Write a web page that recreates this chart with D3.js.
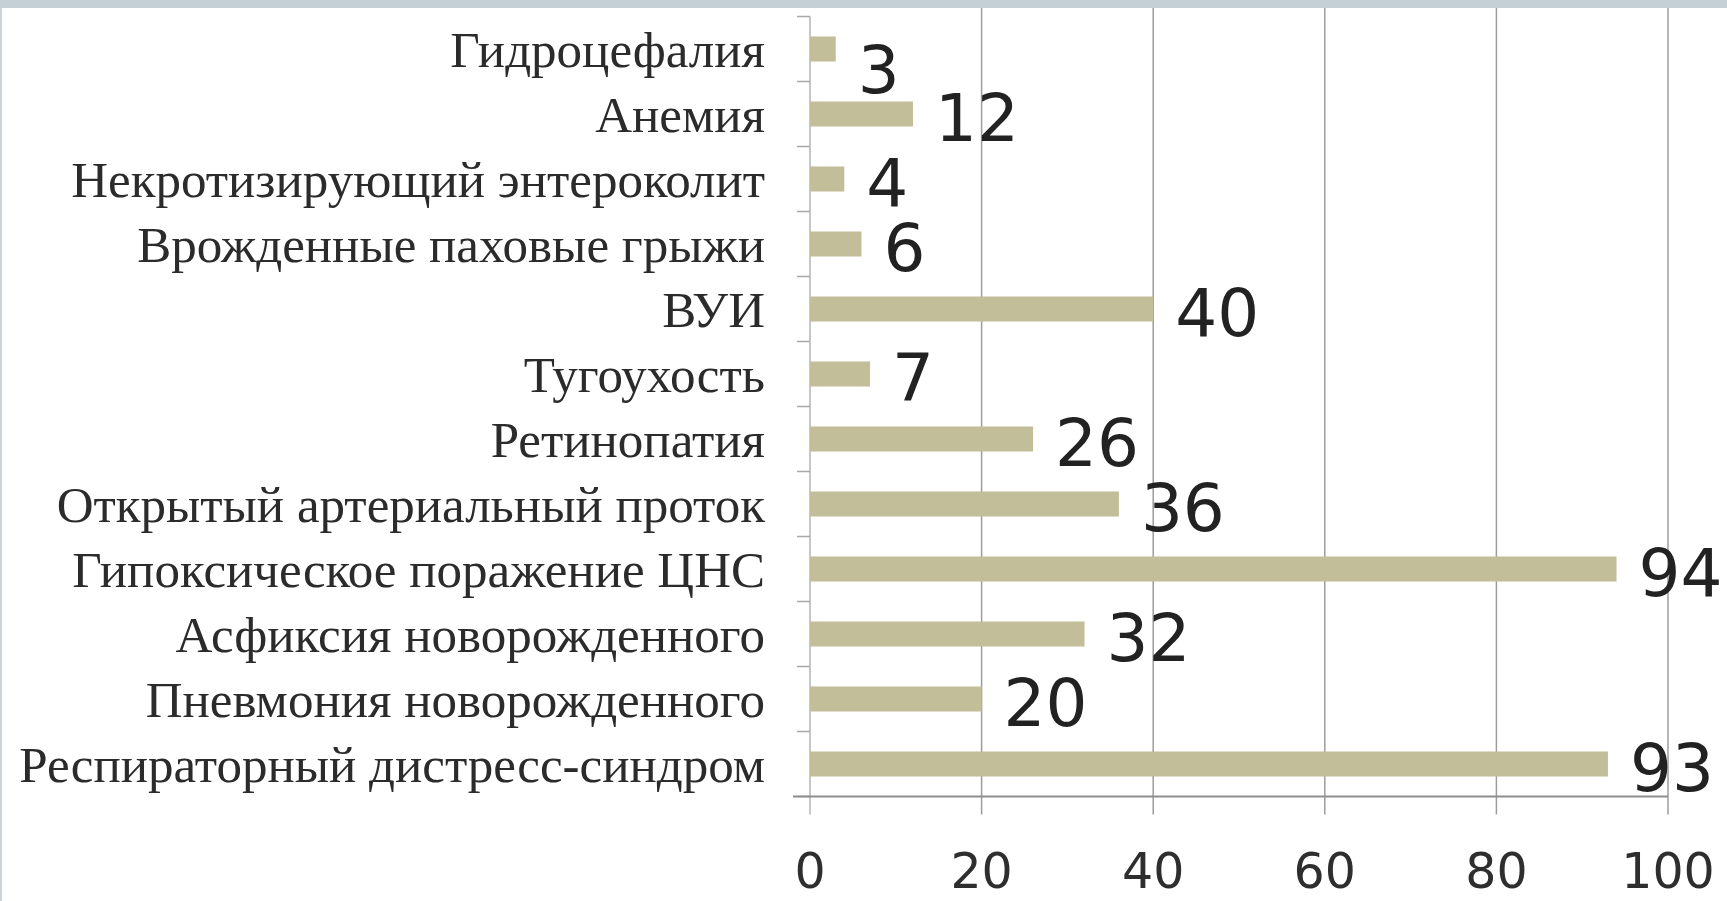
<!DOCTYPE html>
<html>
<head>
<meta charset="utf-8">
<script src="https://cdn.jsdelivr.net/npm/d3@7"></script>
<style>
  html, body { margin: 0; padding: 0; background: #ffffff; }
  svg { display: block; }
</style>
</head>
<body>
<svg id="chart" width="1727" height="901"></svg>
<script>
// Diagnoses, listed top to bottom
const categories = [
  "Гидроцефалия",
  "Анемия",
  "Некротизирующий энтероколит",
  "Врожденные паховые грыжи",
  "ВУИ",
  "Тугоухость",
  "Ретинопатия",
  "Открытый артериальный проток",
  "Гипоксическое поражение ЦНС",
  "Асфиксия новорожденного",
  "Пневмония новорожденного",
  "Респираторный дистресс-синдром"
];
// Number of cases per diagnosis
const values = [3, 12, 4, 6, 40, 7, 26, 36, 94, 32, 20, 93];
// Value axis ticks
const xTicks = [0, 20, 40, 60, 80, 100];

const svg = d3.select("#chart");
const W = 1727, H = 901;

// frame strips along the top and left edges
svg.append("rect").attr("x", 0).attr("y", 0).attr("width", W).attr("height", 8)
  .attr("fill", "#c4cfd6");
svg.append("rect").attr("x", 0).attr("y", 8).attr("width", 2).attr("height", H - 8)
  .attr("fill", "#c9d4dc");

const plot = { left: 810, right: 1668, top: 16.5, bottom: 796.5 };

const x = d3.scaleLinear().domain([0, 100]).range([plot.left, plot.right]);
const y = d3.scaleBand().domain(categories)
  .range([plot.top, plot.bottom])
  .paddingInner(0.615)
  .paddingOuter(0.3075);

// vertical gridlines (with tick stubs below the axis)
svg.append("g").selectAll("line.grid")
  .data(xTicks.filter(t => t > 0))
  .join("line")
  .attr("x1", d => x(d)).attr("x2", d => x(d))
  .attr("y1", 8).attr("y2", plot.bottom + 18)
  .attr("stroke", "#9c9c9c").attr("stroke-width", 1.5);

// category axis line and its tick marks at band boundaries
svg.append("line")
  .attr("x1", x(0)).attr("x2", x(0))
  .attr("y1", plot.top).attr("y2", plot.bottom + 18)
  .attr("stroke", "#b4b4b4").attr("stroke-width", 1.5);

const boundaries = categories.map(c => y(c) - y.step() * y.paddingInner() / 2)
  .concat([plot.bottom]);
svg.append("g").selectAll("line.ytick")
  .data(boundaries)
  .join("line")
  .attr("x1", x(0) - 13).attr("x2", x(0))
  .attr("y1", d => d).attr("y2", d => d)
  .attr("stroke", "#a8a8a8").attr("stroke-width", 1.5);

// value axis line
svg.append("line")
  .attr("x1", x(0) - 17).attr("x2", x(100))
  .attr("y1", plot.bottom).attr("y2", plot.bottom)
  .attr("stroke", "#8e8e8e").attr("stroke-width", 2);

// bars
svg.append("g").selectAll("rect.bar")
  .data(values)
  .join("rect")
  .attr("x", x(0))
  .attr("y", (d, i) => y(categories[i]))
  .attr("width", d => x(d) - x(0))
  .attr("height", y.bandwidth())
  .attr("fill", "#c2be9a");

// category labels
svg.append("g").selectAll("text.cat")
  .data(categories)
  .join("text")
  .attr("x", x(0) - 45)
  .attr("y", d => y(d) + y.bandwidth() / 2)
  .attr("dy", "0.35em")
  .attr("text-anchor", "end")
  .attr("font-family", "'Liberation Serif', 'Times New Roman', serif")
  .attr("font-size", 51)
  .attr("fill", "#2b2b2b")
  .text(d => d);

// value labels at the bar ends
const labelTop = 45, labelCap = 48;
svg.append("g").selectAll("text.val")
  .data(values)
  .join("text")
  .attr("x", d => x(d) + 22)
  .attr("y", (d, i) => Math.max(y(categories[i]) + y.bandwidth() / 2 + 27, labelTop + labelCap))
  .attr("font-family", "'DejaVu Sans', Verdana, sans-serif")
  .attr("font-size", 66)
  .attr("fill", "#222222")
  .text(d => d);

// value axis tick labels
svg.append("g").selectAll("text.xtick")
  .data(xTicks)
  .join("text")
  .attr("x", d => x(d))
  .attr("y", 888)
  .attr("text-anchor", "middle")
  .attr("font-family", "'DejaVu Sans', Verdana, sans-serif")
  .attr("font-size", 49)
  .attr("fill", "#2e2e2e")
  .text(d => d);
</script>
</body>
</html>
